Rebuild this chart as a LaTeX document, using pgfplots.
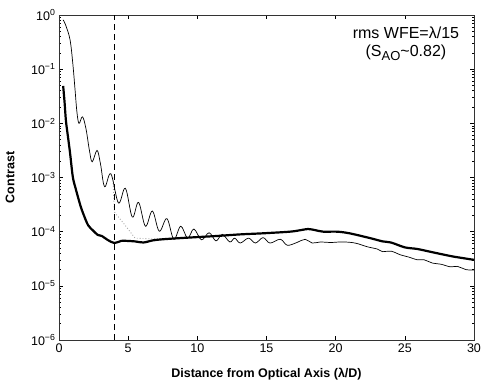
\documentclass[border=0pt]{standalone}
\usepackage{pgfplots}
\pgfplotsset{compat=1.18}
\usepackage{fontspec}
\setmainfont{Liberation Sans}
\begin{document}
\begin{tikzpicture}
\begin{axis}[
  scale only axis,
  width=415pt, height=325pt,
  xmin=0, xmax=30,
  ymode=log, log basis y=10,
  ymin=1e-6, ymax=1,
  xtick={0,5,10,15,20,25,30},
  xticklabels={0,5,10,15,20,25,30},
  ytick={1e-6,1e-5,1e-4,1e-3,1e-2,1e-1,1},
  yticklabels={10\textsuperscript{−6},10\textsuperscript{−5},10\textsuperscript{−4},10\textsuperscript{−3},10\textsuperscript{−2},10\textsuperscript{−1},10\textsuperscript{0}},
  minor ytick={2e-6,3e-6,4e-6,5e-6,6e-6,7e-6,8e-6,9e-6,
               2e-5,3e-5,4e-5,5e-5,6e-5,7e-5,8e-5,9e-5,
               2e-4,3e-4,4e-4,5e-4,6e-4,7e-4,8e-4,9e-4,
               2e-3,3e-3,4e-3,5e-3,6e-3,7e-3,8e-3,9e-3,
               2e-2,3e-2,4e-2,5e-2,6e-2,7e-2,8e-2,9e-2,
               0.2,0.3,0.4,0.5,0.6,0.7,0.8,0.9},
  tick align=inside,
  major tick length=4pt,
  minor tick length=2pt,
  tick style={black, line width=0.5pt},
  axis line style={line width=0.6pt, black!80},
  ticklabel style={font=\fontsize{12.5}{14}\selectfont},
  every axis x label/.style={at={(axis description cs:0.5,0)}, anchor=center, yshift=-34pt},
  every axis y label/.style={at={(axis description cs:0,0.5)}, rotate=90, anchor=center, yshift=49pt},
  xlabel={\fontsize{12.5}{14}\selectfont\bfseries Distance from Optical Axis (λ/D)},
  ylabel={\fontsize{12.5}{14}\selectfont\bfseries Contrast},
  clip=true,
]
% dotted gray curve
\addplot[gray!70, dotted, line width=0.9pt] coordinates {
(3.9,1.0e-3)(4.0,2.3e-4)(4.6,1.5e-4)(5.5,7.6e-5)(6.5,7.4e-5)(7.5,7.4e-5)};
% thin curve
\addplot[black, line width=0.7pt, smooth, tension=0.6] coordinates {
(0.3,0.813)(0.5,0.631)(0.8,0.347)(1.0,0.126)(1.16,0.0417)(1.3,0.0158)(1.45,0.0100)(1.7,0.0132)(1.95,0.00794)(2.2,0.00316)(2.4,0.00195)(2.75,0.00316)(3.0,0.00178)(3.3,6.76e-4)(3.75,1.17e-3)(4.3,3.39e-4)(4.8,6.31e-4)(5.3,1.86e-4)(5.75,3.47e-4)(6.25,1.26e-4)(6.75,2.40e-4)(7.25,1.02e-4)(7.8,1.74e-4)(8.3,7.24e-5)(8.8,1.26e-4)(9.3,7.59e-5)(9.75,1.12e-4)(10.3,7.08e-5)(10.85,9.55e-5)(11.35,6.76e-5)(11.8,8.91e-5)(12.35,6.46e-5)(12.7,7.59e-5)(13.1,6.17e-5)(13.7,7.59e-5)(14.2,6.17e-5)(14.75,7.76e-5)(15.25,6.17e-5)(16.0,7.24e-5)(16.5,5.62e-5)(17.2,6.31e-5)(17.8,7.24e-5)(18.3,6.17e-5)(18.9,6.46e-5)(19.6,6.31e-5)(20.5,6.46e-5)(21.4,6.17e-5)(22.3,5.25e-5)(23.0,4.79e-5)(23.4,4.27e-5)(24.0,4.37e-5)(24.7,3.72e-5)(25.3,3.39e-5)(25.9,3.02e-5)(26.4,3.02e-5)(27.0,2.63e-5)(27.6,2.51e-5)(28.3,2.24e-5)(28.8,2.29e-5)(29.4,2.00e-5)(30,1.95e-5)};
% thick curve
\addplot[black, line width=2.2pt, smooth, tension=0.5] coordinates {
(0.3,0.049)(0.4,0.0251)(0.5,0.0112)(0.65,0.00562)(0.8,0.00282)(1.0,1.02e-3)(1.2,6.31e-4)(1.37,4.37e-4)(1.55,3.02e-4)(1.74,2.19e-4)(2.1,1.32e-4)(2.46,1.05e-4)(2.8,8.71e-5)(3.1,8.32e-5)(3.5,7.08e-5)(4.0,6.17e-5)(4.5,6.76e-5)(4.9,6.76e-5)(5.5,6.61e-5)(6.1,6.31e-5)(6.8,6.92e-5)(7.5,7.24e-5)(8.7,7.59e-5)(10,7.94e-5)(11.4,8.32e-5)(13.1,8.91e-5)(14.75,9.33e-5)(16.7,1.0e-4)(17.5,1.07e-4)(18.0,1.12e-4)(18.5,1.07e-4)(19.1,1.0e-4)(20.1,1.0e-4)(21.0,9.33e-5)(22.5,7.59e-5)(23.4,6.61e-5)(24.0,6.31e-5)(25.0,5.13e-5)(25.9,4.79e-5)(27.0,4.17e-5)(28.3,3.55e-5)(29.0,3.31e-5)(30,3.02e-5)};
% dashed vertical line
\addplot[black, dashed, line width=0.7pt, dash pattern=on 6pt off 4pt] coordinates {(4,1e-6)(4,1)};
\node[anchor=north, align=center, font=\fontsize{16}{18}\selectfont, inner sep=0pt] at (rel axis cs:0.836,0.965)
  {rms WFE=λ/15\\(S\raisebox{-4pt}{\fontsize{13}{14}\selectfont AO}\textasciitilde0.82)};
\end{axis}
\pgfresetboundingbox
\path[use as bounding box] ([xshift=-59pt,yshift=-45pt]current axis.south west) rectangle ([xshift=11pt,yshift=15pt]current axis.north east);
\end{tikzpicture}
\end{document}
